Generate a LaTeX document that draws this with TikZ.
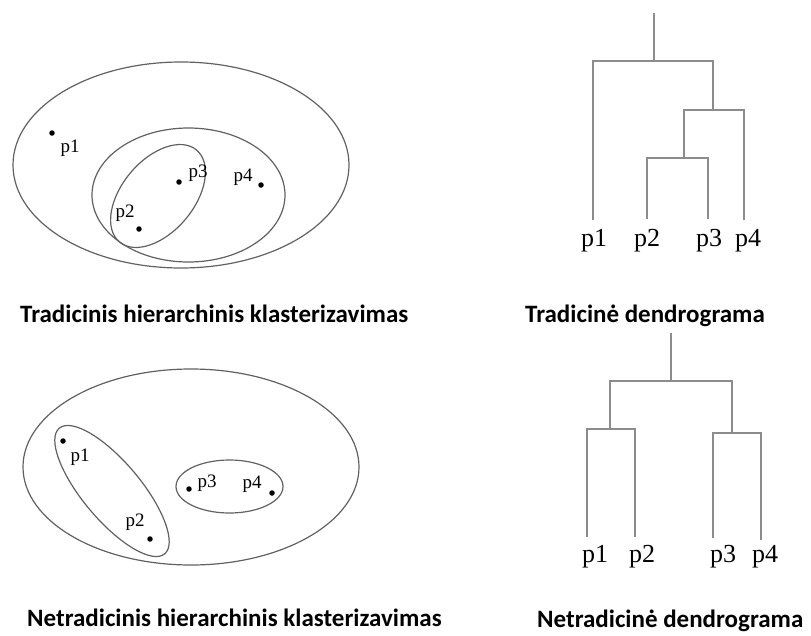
\documentclass[tikz,border=0pt]{standalone}
\usepackage{fontspec}
\setmainfont{Liberation Serif}
\newfontfamily\capfont{Carlito}
\begin{document}
\begin{tikzpicture}[x=1pt,y=-1pt,
  ell/.style={draw=black!62,line width=1.2pt},
  dline/.style={draw=black!45,line width=1.6pt},
  dot/.style={circle,fill=black,inner sep=0pt,minimum size=5.5pt},
  plab/.style={inner sep=0pt,font=\fontsize{19}{19}\selectfont},
  dlab/.style={inner sep=0pt,font=\fontsize{26}{26}\selectfont},
  caption/.style={inner sep=0pt,anchor=base west,font=\capfont\bfseries\fontsize{25}{25}\selectfont}]
\useasboundingbox (0,0) rectangle (811,635);
% ---------- top left ----------
\draw[ell] (181,165) ellipse [x radius=168pt, y radius=103pt];
\draw[ell] (188.5,195) ellipse [x radius=96.5pt, y radius=67pt];
\draw[ell, rotate around={50:(158,196)}] (158,196) ellipse [x radius=60pt, y radius=36pt];
\node[dot] (a1) at (52,133) {};
\node[dot] (a2) at (139,229) {};
\node[dot] (a3) at (179,182) {};
\node[dot] (a4) at (261,185) {};
\node[plab] (la1) at (70,148) {p1};
\node[plab] (la2) at (125,213) {p2};
\node[plab] (la3) at (198,173) {p3};
\node[plab] (la4) at (243,177) {p4};
\node[caption] (c1) at (20,322) {Tradicinis hierarchinis klasterizavimas};
% ---------- top right dendrogram ----------
\coordinate (r0) at (654,13);
\coordinate (r1) at (654,61);
\coordinate (b1l) at (593,61);
\coordinate (b1r) at (713,61);
\coordinate (b2) at (713,110);
\coordinate (b2l) at (684,110);
\coordinate (b2r) at (744,110);
\coordinate (b3) at (684,158);
\coordinate (b3l) at (647,158);
\coordinate (b3r) at (708,158);
\coordinate (e1) at (593,220);
\coordinate (e2) at (647,219);
\coordinate (e3) at (708,219);
\coordinate (e4) at (744,220);
\draw[dline] (r0) -- (r1);
\draw[dline] (e1) -- (b1l) -- (b1r) -- (b2);
\draw[dline] (e4) -- (b2r) -- (b2l) -- (b3);
\draw[dline] (e2) -- (b3l) -- (b3r) -- (e3);
\node[dlab] (t1) at (594,241) {p1};
\node[dlab] (t2) at (647,241) {p2};
\node[dlab] (t3) at (709,241) {p3};
\node[dlab] (t4) at (748,241) {p4};
\node[caption] (c2) at (525,322) {Tradicinė dendrograma};
% ---------- bottom left ----------
\draw[ell] (191,467) ellipse [x radius=168pt, y radius=98pt];
\draw[ell, rotate around={-50:(112,491)}] (112,491) ellipse [x radius=82pt, y radius=29pt];
\draw[ell] (229.5,486.5) ellipse [x radius=53.5pt, y radius=26.5pt];
\node[dot] (m1) at (63,441) {};
\node[dot] (m2) at (150,539) {};
\node[dot] (m3) at (189,489) {};
\node[dot] (m4) at (272,493) {};
\node[plab] (lm1) at (80,457) {p1};
\node[plab] (lm2) at (135,522) {p2};
\node[plab] (lm3) at (207,483) {p3};
\node[plab] (lm4) at (252,484) {p4};
\node[caption] (c3) at (27,626) {Netradicinis hierarchinis klasterizavimas};
% ---------- bottom right dendrogram ----------
\coordinate (s0) at (671,333);
\coordinate (s1) at (671,381);
\coordinate (g1l) at (610,381);
\coordinate (g1r) at (732,381);
\coordinate (g2) at (610,429);
\coordinate (g2l) at (587,429);
\coordinate (g2r) at (635,429);
\coordinate (g3) at (732,433);
\coordinate (g3l) at (713,433);
\coordinate (g3r) at (761,433);
\coordinate (f1) at (587,537);
\coordinate (f2) at (635,537);
\coordinate (f3) at (713,538);
\coordinate (f4) at (761,540);
\draw[dline] (s0) -- (s1);
\draw[dline] (g2) -- (g1l) -- (g1r) -- (g3);
\draw[dline] (f1) -- (g2l) -- (g2r) -- (f2);
\draw[dline] (f3) -- (g3l) -- (g3r) -- (f4);
\node[dlab] (u1) at (595,557) {p1};
\node[dlab] (u2) at (642,557) {p2};
\node[dlab] (u3) at (723,557) {p3};
\node[dlab] (u4) at (765,557) {p4};
\node[caption] (c4) at (537,627) {Netradicinė dendrograma};
\end{tikzpicture}
\end{document}
